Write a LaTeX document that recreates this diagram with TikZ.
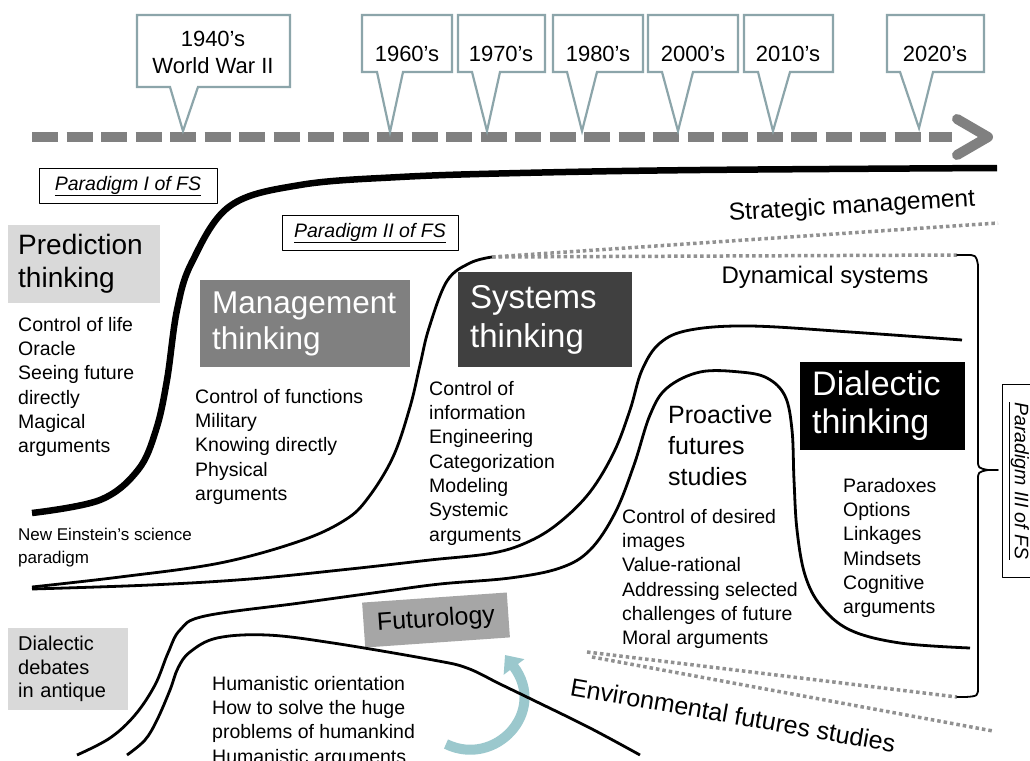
\documentclass[tikz,border=0pt]{standalone}
\usepackage{fontspec}
\setmainfont{Liberation Sans}
\usetikzlibrary{arrows.meta}
\definecolor{calloutgray}{RGB}{140,165,170}
\definecolor{timegray}{RGB}{128,128,128}
\definecolor{dotgray}{RGB}{145,145,145}
\definecolor{lightbox}{RGB}{217,217,217}
\definecolor{midbox}{RGB}{128,128,128}
\definecolor{darkbox}{RGB}{64,64,64}
\definecolor{futbox}{RGB}{166,166,166}
\definecolor{arrowteal}{RGB}{155,200,205}
\begin{document}
\begin{tikzpicture}[x=1pt,y=-1pt,line join=round,line cap=round,
		callout/.style={draw=calloutgray,line width=2.2pt,line join=miter},
		year/.style={font=\fontsize{22}{27}\selectfont,align=center,inner sep=0},
		thinkbox/.style={anchor=north west,inner ysep=0,align=left},
		items/.style={anchor=north west,inner sep=0,align=left,font=\fontsize{19.5}{24.3}\selectfont},
		paradigm/.style={draw,line width=0.9pt,inner sep=0,font=\fontsize{19.5}{22}\selectfont\itshape},
		wave/.style={line width=2.8pt,line cap=butt},
		dots/.style={dotgray,line width=3.5pt,line cap=butt,dash pattern=on 3.5pt off 3pt},
		timeline/.style={timegray,line width=10pt,line cap=butt,dash pattern=on 26pt off 8.5pt}]
	\fill[white] (0,0) rectangle (1030,760);
	\useasboundingbox (0,0) rectangle (1030,760);
	
	\coordinate (tstart) at (32,137);
	\coordinate (tend) at (952,137);
	\draw[timeline] (tstart) -- (tend);
	\draw[timegray,line width=10pt] (957,119) -- (988,137) -- (957,155);
	
	\draw[callout] (137,15) -- (290,15) -- (290,87) -- (198,87) -- (183,131) -- (170,87) -- (137,87) -- cycle;
	\draw[callout] (362,15) -- (452,15) -- (452,72) -- (403,72) -- (390,132) -- (377,72) -- (362,72) -- cycle;
	\draw[callout] (458,15) -- (545,15) -- (545,72) -- (500,72) -- (487,131) -- (472,72) -- (458,72) -- cycle;
	\draw[callout] (553,15) -- (643,15) -- (643,72) -- (597,72) -- (582,131) -- (567,72) -- (553,72) -- cycle;
	\draw[callout] (648,15) -- (738,15) -- (738,72) -- (693,72) -- (678,131) -- (662,72) -- (648,72) -- cycle;
	\draw[callout] (744,15) -- (833,15) -- (833,72) -- (790,72) -- (773,131) -- (758,72) -- (744,72) -- cycle;
	\draw[callout] (887,15) -- (984,15) -- (984,72) -- (933,72) -- (919,128) -- (900,72) -- (887,72) -- cycle;
	\path
	(213,31)node(y1940)[year,anchor=north]{1940's\\World War II}
	(407,62)node(y1960)[year,anchor=base]{1960's}
	(501,62)node(y1970)[year,anchor=base]{1970's}
	(598,62)node(y1980)[year,anchor=base]{1980's}
	(693,62)node(y2000)[year,anchor=base]{2000's}
	(788,62)node(y2010)[year,anchor=base]{2010's}
	(935,62)node(y2020)[year,anchor=base]{2020's}
	;
	
	\path
	(128,186)node(par1)[paradigm,minimum width=178pt,minimum height=35pt]{\underline{Paradigm I of FS}}
	(370,233)node(par2)[paradigm,minimum width=176pt,minimum height=35pt]{\underline{Paradigm II of FS}}
	(1019,481)node(par3)[paradigm,rotate=-90,minimum width=193pt,minimum height=34pt]{\underline{Paradigm III of FS}}
	;
	
	\path
	(8,225)node(predict)[thinkbox,fill=lightbox,minimum width=152pt,minimum height=78pt,inner xsep=10pt,text width=132pt,font=\fontsize{28}{33}\selectfont]{Prediction\\thinking}
	(200,280)node(manage)[thinkbox,fill=midbox,text=white,minimum width=210pt,minimum height=87pt,inner xsep=12pt,text width=186pt,font=\fontsize{31.5}{36}\selectfont]{Management\\thinking}
	(458,272)node(system)[thinkbox,fill=darkbox,text=white,minimum width=174pt,minimum height=95pt,inner xsep=12pt,text width=150pt,font=\fontsize{33}{39}\selectfont]{Systems\\thinking}
	(800,362)node(dialect)[thinkbox,fill=black,text=white,minimum width=165pt,minimum height=88pt,inner xsep=12pt,text width=141pt,font=\fontsize{34}{38}\selectfont]{Dialectic\\thinking}
	(8,628)node(debate)[thinkbox,fill=lightbox,minimum width=120pt,minimum height=82pt,inner xsep=10pt,text width=100pt,font=\fontsize{20}{23.5}\selectfont]{Dialectic\\debates\\in antique}
	(436,620)node(futuro)[fill=futbox,minimum width=145pt,minimum height=45pt,rotate=4,font=\fontsize{25}{30}\selectfont]{Futurology}
	;
	
	\path
	(18,317)node(predlist)[items]{Control of life\\Oracle\\Seeing future\\directly\\Magical\\arguments}
	(195,389)node(manlist)[items]{Control of functions\\Military\\Knowing directly\\Physical\\arguments}
	(429,381)node(syslist)[items]{Control of\\information\\Engineering\\Categorization\\Modeling\\Systemic\\arguments}
	(668,405)node(proact)[items,font=\fontsize{25}{31}\selectfont]{Proactive\\futures\\studies}
	(622,509)node(prolist)[items]{Control of desired\\images\\Value-rational\\Addressing selected\\challenges of future\\Moral arguments}
	(843,478)node(dialist)[items]{Paradoxes\\Options\\Linkages\\Mindsets\\Cognitive\\arguments}
	(212,676)node(futlist)[items]{Humanistic orientation\\How to solve the huge\\problems of humankind\\Humanistic arguments}
	(18,528)node(einstein)[items,font=\fontsize{17}{23}\selectfont]{New Einstein's science\\paradigm}
	;
	
	\path
	(852,207)node(strat)[font=\fontsize{24.5}{28}\selectfont,rotate=3.5]{Strategic management}
	(825,277)node(dynam)[font=\fontsize{24}{28}\selectfont]{Dynamical systems}
	(733,715)node(enviro)[font=\fontsize{25}{28}\selectfont,rotate=-10]{Environmental futures studies}
	;
	
	\draw[line width=6.5pt,line cap=butt] plot[smooth,tension=0.6] coordinates {(32,513) (100,500) (138,470) (156,430) (167,380) (177,310) (192,262) (230,206) (300,185) (400,177) (520,173) (700,170) (997,168)};
	\draw[wave] plot[smooth,tension=0.6] coordinates {(32,587) (120,577) (220,563) (300,541) (345,520) (368,498) (393,457) (410,407) (420,365) (429,328) (447,281) (470,263) (492,257)};
	\draw[wave] plot[smooth,tension=0.6] coordinates {(32,589) (150,585) (250,579) (350,569) (430,560) (493,553) (530,541) (560,522) (590,492) (614,452) (630,410) (642,370) (660,343) (690,330) (750,326) (850,332) (962,340)};
	\draw[wave] plot[smooth,tension=0.6] coordinates {(77,755) (110,738) (135,715) (155,685) (168,653) (180,630) (205,616) (300,603) (380,592) (440,584) (510,578) (560,568) (590,550) (615,513) (634,465) (650,415) (667,388) (700,372) (740,372) (767,378) (785,396) (792,430) (794,480) (797,530) (805,575) (821,606) (850,630) (900,643) (970,648)};
	\draw[arrowteal,line width=10pt,line cap=butt,-{Triangle[width=25pt,length=15pt]}] (446,744) .. controls (495,768) and (548,712) .. (505,655);
	\draw[wave] plot[smooth,tension=0.6] coordinates {(127,755) (145,740) (157,720) (170,690) (178,668) (190,652) (217,638) (267,635) (333,643) (433,660) (467,668) (500,684) (533,700) (590,728) (640,755)};
	
	\draw[dots] (492,257) -- (998,223);
	\draw[dots] (492,257) -- (957,255);
	\draw[dots] (587,652) -- (957,697);
	\draw[dots] (592,657) -- (993,731);
	\draw[line width=1.8pt] (957,255) -- (966,255) .. controls (976,255) .. (978,265) -- (978,460) .. controls (978,468) .. (988,470) -- (998,470) (988,470) .. controls (978,472) .. (978,480) -- (978,687) .. controls (978,696) .. (966,697) -- (957,697);
\end{tikzpicture}
\end{document}
